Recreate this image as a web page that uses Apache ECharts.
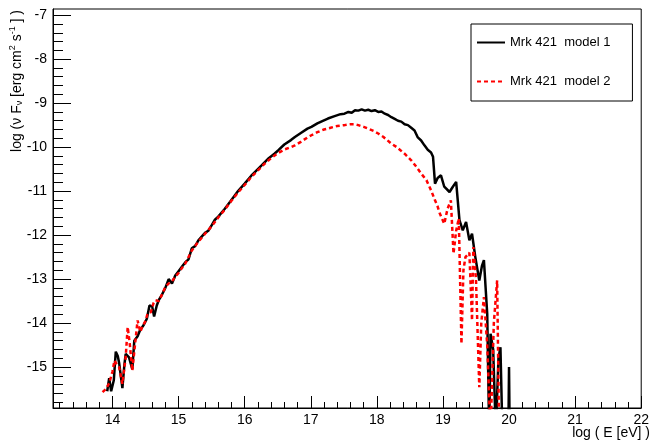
<!DOCTYPE html>
<html>
<head>
<meta charset="utf-8">
<script src="https://cdn.jsdelivr.net/npm/echarts@6/dist/echarts.min.js"></script>
<style>html,body{margin:0;padding:0;background:#fff}#c{width:652px;height:444px}</style>
</head>
<body>
<div id="c"></div>
<script>
// ---- data (log E [eV], log nuF_nu) ----
var seriesNames = ['Mrk 421  model 1', 'Mrk 421  model 2'];
var e1 = [13.92,13.95,13.98,14.02,14.05,14.08,14.10,14.15,14.18,14.20,
  14.25,14.30,14.33,14.38,14.42,14.47,14.52,14.56,14.60,14.63,
  14.67,14.70,14.75,14.80,14.85,14.90,14.95,15.00,15.05,15.10,
  15.15,15.20,15.25,15.30,15.40,15.45,15.50,15.55,15.60,15.70,
  15.76,15.85,15.90,16.00,16.10,16.20,16.26,16.35,16.45,16.51,
  16.60,16.70,16.76,16.85,16.95,17.01,17.10,17.20,17.26,17.35,
  17.45,17.51,17.57,17.62,17.67,17.72,17.77,17.82,17.87,17.92,
  17.97,18.02,18.07,18.12,18.17,18.22,18.27,18.32,18.37,18.42,
  18.47,18.52,18.57,18.62,18.67,18.72,18.77,18.82,18.85,18.88,
  18.92,18.97,19.02,19.10,19.15,19.20,19.25,19.30,19.35,19.40,
  19.44,19.49,19.55,19.59,19.62,19.67,19.70,19.72,19.76,19.80,
  19.84,19.87,19.90,19.99,20.00,20.01];
var f1 = [-15.55,-15.25,-15.55,-15.30,-14.65,-14.75,-14.90,-15.48,-14.95,-14.70,
  -14.78,-15.05,-14.40,-14.30,-14.15,-14.05,-13.90,-13.60,-13.62,-13.85,
  -13.60,-13.48,-13.35,-13.20,-13.00,-13.10,-12.92,-12.82,-12.72,-12.62,
  -12.55,-12.30,-12.25,-12.12,-11.95,-11.90,-11.78,-11.65,-11.58,-11.40,
  -11.28,-11.10,-11.00,-10.83,-10.65,-10.50,-10.41,-10.27,-10.15,-10.07,
  -9.94,-9.84,-9.77,-9.68,-9.58,-9.54,-9.46,-9.39,-9.35,-9.30,
  -9.25,-9.24,-9.20,-9.22,-9.16,-9.17,-9.14,-9.17,-9.15,-9.18,
  -9.16,-9.20,-9.19,-9.24,-9.27,-9.32,-9.36,-9.40,-9.42,-9.48,
  -9.50,-9.56,-9.62,-9.78,-9.85,-9.96,-10.06,-10.12,-10.22,-10.83,
  -10.70,-10.64,-10.90,-11.02,-10.90,-10.79,-11.66,-11.89,-11.70,-12.12,
  -11.97,-12.50,-13.03,-12.70,-12.57,-13.79,-16.50,-14.24,-14.60,-16.50,
  -14.80,-14.55,-16.50,-16.50,-15.00,-16.50];
var e2 = [13.85,13.90,13.95,14.00,14.03,14.07,14.10,14.15,14.20,14.23,
  14.26,14.30,14.34,14.38,14.42,14.45,14.50,14.53,14.58,14.62,
  14.65,14.70,14.73,14.80,14.85,14.90,14.95,15.00,15.05,15.10,
  15.20,15.30,15.40,15.50,15.60,15.70,15.80,15.90,16.00,16.10,
  16.20,16.30,16.40,16.50,16.61,16.70,16.76,16.85,16.95,17.01,
  17.10,17.20,17.30,17.40,17.51,17.60,17.66,17.72,17.80,17.87,
  17.95,18.02,18.10,18.22,18.30,18.42,18.52,18.60,18.67,18.75,
  18.82,18.88,18.92,18.95,19.02,19.07,19.12,19.16,19.20,19.24,
  19.28,19.31,19.34,19.40,19.44,19.46,19.50,19.55,19.58,19.62,
  19.67,19.72,19.77,19.82,19.85];
var f2 = [-15.57,-15.50,-15.37,-15.10,-14.85,-14.95,-15.00,-15.38,-14.77,-14.09,
  -14.45,-15.08,-14.50,-13.94,-14.20,-14.09,-13.95,-13.79,-13.75,-13.55,
  -13.48,-13.50,-13.41,-13.18,-13.10,-13.05,-12.95,-12.86,-12.75,-12.65,
  -12.35,-12.15,-11.97,-11.80,-11.60,-11.42,-11.22,-11.03,-10.86,-10.68,
  -10.53,-10.38,-10.25,-10.14,-10.05,-10.00,-9.96,-9.88,-9.78,-9.73,
  -9.66,-9.60,-9.56,-9.52,-9.50,-9.48,-9.48,-9.50,-9.54,-9.58,
  -9.63,-9.69,-9.77,-9.92,-10.00,-10.15,-10.30,-10.45,-10.60,-10.75,
  -10.98,-11.21,-11.35,-11.50,-11.74,-11.40,-11.21,-12.42,-11.90,-11.62,
  -14.47,-12.80,-12.50,-12.40,-13.94,-12.27,-13.00,-15.46,-14.00,-13.41,
  -14.50,-16.50,-14.00,-13.03,-16.50];
var xTicks = [14,15,16,17,18,19,20,21,22];
var yTicks = [-15,-14,-13,-12,-11,-10,-9,-8,-7];
var xTitle = 'log ( E [eV] )';

function pairs(xs, ys){ return xs.map(function(x,i){ return [x, ys[i]]; }); }
function minors(lo, hi, step){
  var out = [];
  for (var v = Math.ceil(lo/step - 1e-9); v*step <= hi + 1e-9; v++){
    var val = Math.round(v*step*1000)/1000;
    if (Math.abs(val - Math.round(val)) > 1e-6) out.push(val);
  }
  return out;
}
var XMIN = 13.1, XMAX = 22, YMIN = -15.93, YMAX = -6.86;
var FONT = 'Liberation Sans, Arial, Helvetica, sans-serif';

var chart = echarts.init(document.getElementById('c'), null, {renderer:'canvas'});
function xa(major){
  return {
    type:'value', min:XMIN, max:XMAX, position:'bottom',
    axisLine:{show:major, onZero:false, lineStyle:{color:'#000', width:1}},
    axisTick:{show:true, inside:true, length: major?12:6, customValues: major?xTicks:minors(XMIN,XMAX,0.2), lineStyle:{color:'#000', width:1}},
    axisLabel:{show:major, customValues: xTicks, margin:5, fontSize:14, color:'#000', fontFamily:FONT},
    splitLine:{show:false}
  };
}
function ya(major){
  return {
    type:'value', min:YMIN, max:YMAX, position:'left',
    axisLine:{show:major, onZero:false, lineStyle:{color:'#000', width:1}},
    axisTick:{show:true, inside:true, length: major?18:10, customValues: major?yTicks:minors(YMIN,YMAX,0.2), lineStyle:{color:'#000', width:1}},
    axisLabel:{show:major, customValues: yTicks, margin:6, fontSize:14, color:'#000', fontFamily:FONT},
    splitLine:{show:false}
  };
}
chart.setOption({
  animation:false,
  backgroundColor:'#fff',
  grid:{left:53, top:9, width:591, height:399, show:true, borderColor:'#000', borderWidth:1, backgroundColor:'transparent', containLabel:false},
  xAxis:[xa(true), xa(false)],
  yAxis:[ya(true), ya(false)],
  legend:{
    data:seriesNames, orient:'vertical', left:471, top:24,
    itemWidth:28, itemHeight:14, itemGap:26,
    padding:[12,22,13,5], borderColor:'#000', borderWidth:1, borderRadius:0,
    backgroundColor:'#fff',
    itemStyle:{opacity:0, borderWidth:0},
    textStyle:{fontSize:13, color:'#000', fontFamily:FONT}
  },
  series:[
    {name:seriesNames[0], type:'line', data:pairs(e1,f1), symbol:'none', clip:true,
     lineStyle:{color:'#000', width:2.5}, itemStyle:{color:'#000'}},
    {name:seriesNames[1], type:'line', data:pairs(e2,f2), symbol:'none', clip:true,
     lineStyle:{color:'#ff0000', width:2.5, type:[4,3]}, itemStyle:{color:'#ff0000'}}
  ],
  graphic:[
    {type:'text', x:650, y:433, style:{text:xTitle, fontSize:14, fontFamily:FONT, fill:'#000', align:'right', verticalAlign:'middle'}},
    {type:'text', x:17, y:10, rotation:Math.PI/2,
     style:{text:'{n|log (ν F}{sub|ν}{n| [erg cm}{sup|2}{n| s}{sup|-1}{n| ] )}',
       align:'right', verticalAlign:'middle', fill:'#000', fontFamily:FONT, fontSize:14,
       rich:{
         n:{fontSize:14, fontFamily:FONT, fill:'#000', lineHeight:14, verticalAlign:'bottom'},
         sub:{fontSize:9, fontFamily:FONT, fill:'#000', lineHeight:6, verticalAlign:'bottom'},
         sup:{fontSize:9, fontFamily:FONT, fill:'#000', lineHeight:14, padding:[0,0,7,0], verticalAlign:'bottom'}
       }}}
  ]
});
</script>
</body>
</html>
